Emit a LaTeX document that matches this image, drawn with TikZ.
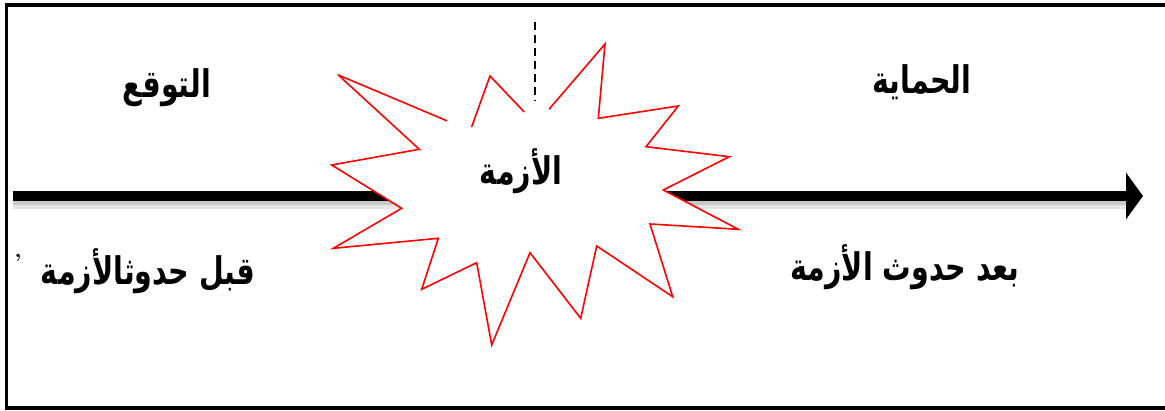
\documentclass[tikz,border=0pt]{standalone}
\usepackage{fontspec}
\usepackage{graphicx}
\usetikzlibrary{arrows.meta}
\TeXXeTstate=1
\newfontfamily\arabicfont[Script=Arabic]{DejaVu Sans}
\newcommand{\arlbl}[1]{\scalebox{0.75}[1]{\arabicfont\bfseries\fontsize{38}{42}\selectfont\beginR #1\endR}}
\begin{document}
\begin{tikzpicture}[x=1pt,y=-1pt,
  lbl/.style={inner sep=0pt, anchor=center},
  starline/.style={draw=red, line width=1.6pt, line join=miter, line cap=round},
  frameline/.style={line width=3.5pt, black},
  timeline/.style={line width=10pt, black, -{Triangle[length=17pt,width=46pt]}},
  divider/.style={line width=2pt, dash pattern=on 8pt off 5pt}]
\useasboundingbox (0,0) rectangle (1165,411);
% frame (left, top, bottom)
\draw[frameline] (1165,5) -- (6.5,5) -- (6.5,408) -- (1165,408);
% timeline with soft shadow
\coordinate (tstart) at (13,196);
\coordinate (tend) at (1143,196);
\fill[black!22] (13,201) rectangle (1128,205);
\fill[black!10] (13,205) rectangle (1128,209);
\draw[timeline] (tstart) -- (tend);
% star (explosion)
\coordinate (p1) at (338.3,75);
\coordinate (p2) at (446.7,120.7);
\coordinate (p3) at (471.7,126.7);
\coordinate (p4) at (490,76);
\coordinate (p5) at (524,111.7);
\coordinate (p6) at (549.3,109);
\coordinate (p7) at (605,44);
\coordinate (p8) at (598.3,118.3);
\coordinate (p9) at (678.3,106);
\coordinate (p10) at (646,146.7);
\coordinate (p11) at (729.3,156.7);
\coordinate (p12) at (663.3,190);
\coordinate (p13) at (738.3,229.3);
\coordinate (p14) at (650,224);
\coordinate (p15) at (672.7,296.7);
\coordinate (p16) at (596.7,246);
\coordinate (p17) at (580.7,318.3);
\coordinate (p18) at (530,252.7);
\coordinate (p19) at (491.7,345);
\coordinate (p20) at (476.7,262.7);
\coordinate (p21) at (421.7,289.3);
\coordinate (p22) at (438.3,238.3);
\coordinate (p23) at (333.3,248.3);
\coordinate (p24) at (401.7,208.3);
\coordinate (p25) at (331.7,165);
\coordinate (p26) at (419.3,149.3);
\fill[white] (p1) -- (p2) -- (p3) -- (p4) -- (p5) -- (p6) -- (p7) -- (p8) -- (p9) -- (p10) -- (p11) -- (p12) -- (p13) -- (p14) -- (p15) -- (p16) -- (p17) -- (p18) -- (p19) -- (p20) -- (p21) -- (p22) -- (p23) -- (p24) -- (p25) -- (p26) -- cycle;
\draw[starline] (p1) -- (p2);
\draw[starline] (p3) -- (p4) -- (p5);
\draw[starline] (p6) -- (p7) -- (p8) -- (p9) -- (p10) -- (p11) -- (p12) -- (p13) -- (p14) -- (p15) -- (p16) -- (p17) -- (p18) -- (p19) -- (p20) -- (p21) -- (p22) -- (p23) -- (p24) -- (p25) -- (p26) -- (p1);
% dashed divider
\coordinate (dtop) at (535,22);
\coordinate (dbot) at (535,101);
\draw[divider] (dtop) -- (dbot);
% labels
\node[lbl] (expect) at (167,88) {\arlbl{التوقع}};
\node[lbl] (protect) at (922,82) {\arlbl{الحماية}};
\node[lbl] (crisis) at (521,171) {\arlbl{الأزمة}};
\node[lbl] (before) at (148,271) {\arlbl{قبل حدوثالأزمة}};
\node[lbl] (after) at (905,267) {\arlbl{بعد حدوث الأزمة}};
\node[font=\bfseries\fontsize{22}{22}\selectfont, inner sep=0pt] (mark) at (18,262) {'};
\end{tikzpicture}
\end{document}
